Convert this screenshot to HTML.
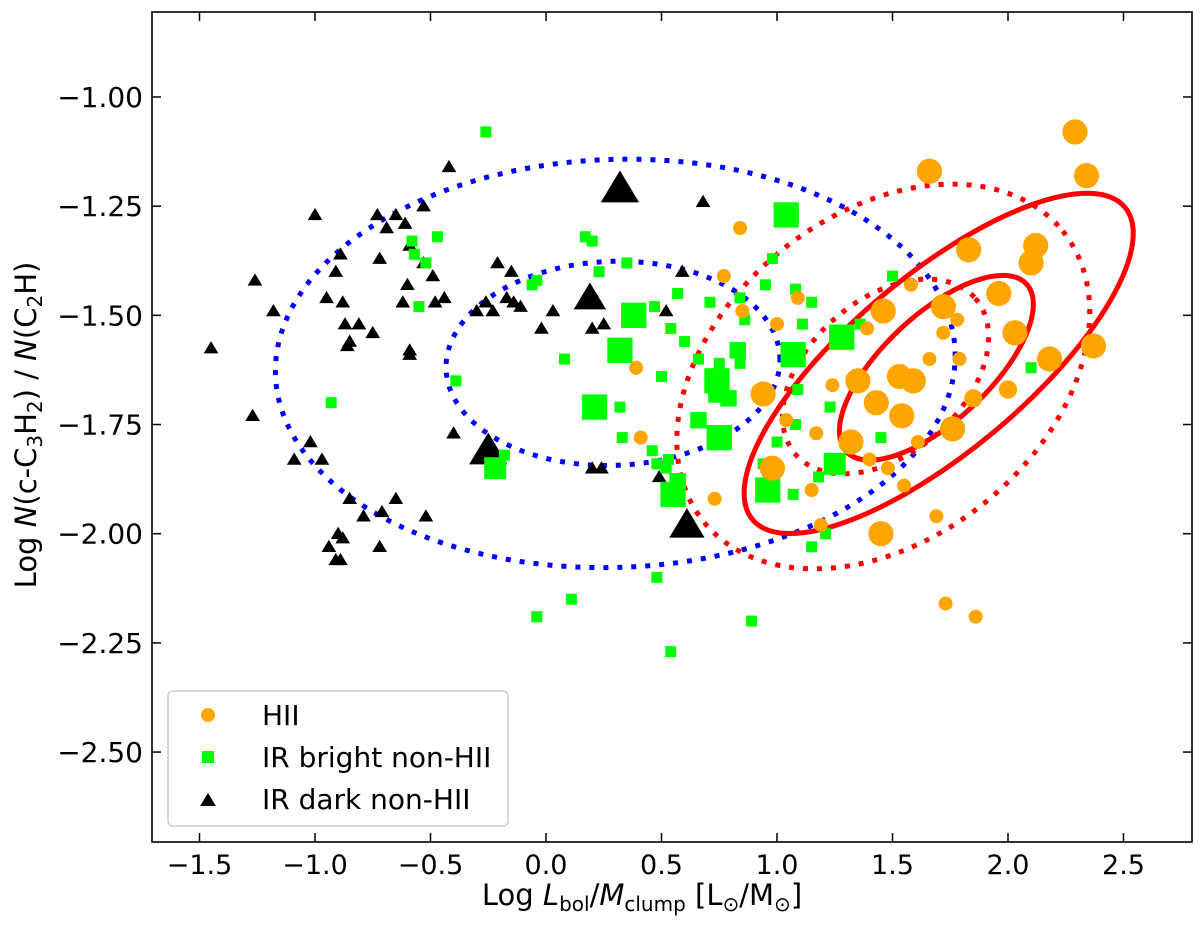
<!DOCTYPE html>
<html><head><meta charset="utf-8"><style>
html,body{margin:0;padding:0;background:#fff;}
svg{display:block;font-family:"DejaVu Sans","Liberation Sans",sans-serif;}
</style></head><body>
<svg id="chart" width="1200" height="929" viewBox="0 0 1200 929" xmlns="http://www.w3.org/2000/svg">
<g id="ellipses"></g>
<g id="marks"></g>
<g id="axes"></g>
<g id="legend"></g>
</svg>
<script>
const tickX = [-1.5,-1.0,-0.5,0.0,0.5,1.0,1.5,2.0,2.5];
const tickXLabels = ["\u22121.5","\u22121.0","\u22120.5","0.0","0.5","1.0","1.5","2.0","2.5"];
const tickY = [-1.00,-1.25,-1.50,-1.75,-2.00,-2.25,-2.50];
const tickYLabels = ["\u22121.00","\u22121.25","\u22121.50","\u22121.75","\u22122.00","\u22122.25","\u22122.50"];

const darkX = [-1.45,-1.26,-1.27,-1.09,-1.18,-1.00,-0.95,-0.91,-0.89,-0.88,-0.86,-0.87,-0.85,-0.81,-0.75,-0.73,-0.69,-0.65,-0.61,-0.59,-0.72,-0.60,-0.62,-0.59,-0.53,-0.53,-0.59,-0.49,-0.48,-0.44,-0.40,-0.42,-0.52,-0.65,-0.71,-0.85,-0.88,-0.91,-0.94,-0.90,-0.97,-1.02,-0.89,-0.79,-0.72,-0.30,-0.26,-0.23,-0.17,-0.15,-0.21,-0.14,-0.11,-0.02,0.03,0.18,0.20,0.25,0.20,0.24,0.59,0.49,0.68,0.52,0.32,0.19,-0.25,0.61];
const darkY = [-1.575,-1.42,-1.73,-1.83,-1.49,-1.27,-1.46,-1.40,-1.36,-1.47,-1.57,-1.52,-1.56,-1.52,-1.54,-1.27,-1.30,-1.27,-1.29,-1.34,-1.37,-1.43,-1.47,-1.58,-1.25,-1.38,-1.59,-1.41,-1.47,-1.46,-1.77,-1.16,-1.96,-1.92,-1.95,-1.92,-2.01,-2.06,-2.03,-2.00,-1.83,-1.79,-2.06,-1.96,-2.03,-1.49,-1.47,-1.49,-1.46,-1.40,-1.38,-1.47,-1.48,-1.53,-1.49,-1.45,-1.53,-1.52,-1.85,-1.85,-1.40,-1.87,-1.24,-1.49,-1.21,-1.46,-1.81,-1.98];
const darkS = [1,1,1,1,1,1,1,1,1,1,1,1,1,1,1,1,1,1,1,1,1,1,1,1,1,1,1,1,1,1,1,1,1,1,1,1,1,1,1,1,1,1,1,1,1,1,1,1,1,1,1,1,1,1,1,1,1,1,1,1,1,1,1,1,2.6,2.2,2.6,2.4];

const brightX = [-0.26,-0.58,-0.47,-0.52,-0.57,-0.55,-0.39,-0.93,-0.18,-0.22,0.08,0.17,0.20,0.35,0.23,-0.06,-0.04,0.32,0.38,0.47,0.57,0.54,0.50,0.60,0.66,0.21,0.32,0.33,0.46,0.48,0.53,0.55,0.52,0.48,0.74,0.74,0.75,0.75,0.84,0.84,0.86,0.95,0.98,1.04,1.08,1.15,1.11,1.07,1.09,1.08,1.00,0.96,1.07,1.25,1.18,1.23,1.28,1.45,1.15,1.21,0.89,0.11,-0.04,0.54,2.10,0.83,0.79,0.94,1.36,1.50,0.71,0.57,0.66];
const brightY = [-1.08,-1.33,-1.32,-1.38,-1.36,-1.48,-1.65,-1.70,-1.82,-1.85,-1.60,-1.32,-1.33,-1.38,-1.40,-1.43,-1.42,-1.58,-1.50,-1.48,-1.45,-1.53,-1.64,-1.56,-1.60,-1.71,-1.71,-1.78,-1.81,-1.84,-1.83,-1.91,-1.85,-2.10,-1.65,-1.68,-1.78,-1.61,-1.61,-1.46,-1.51,-1.43,-1.37,-1.27,-1.44,-1.47,-1.52,-1.59,-1.67,-1.75,-1.79,-1.90,-1.91,-1.84,-1.87,-1.71,-1.55,-1.78,-2.03,-2.00,-2.20,-2.15,-2.19,-2.27,-1.62,-1.58,-1.69,-1.84,-1.52,-1.41,-1.47,-1.88,-1.74];
const brightS = [1,1,1,1,1,1,1,1,1,2,1,1,1,1,1,1,1,2.3,2.3,1,1,1,1,1,1,2.3,1,1,1,1,1,2.3,1,1,2.3,1.6,2.3,1,1,1,1,1,1,2.3,1,1,1,2.3,1,1,1,2.3,1,2,1,1,2.3,1,1,1,1,1,1,1,1,1.5,1.5,1,1,1,1,1.5,1.5];

const hiiX = [2.29,1.66,2.34,2.12,2.10,1.83,1.96,1.72,2.37,2.18,2.03,1.78,1.46,1.58,1.39,1.35,1.43,1.53,1.59,1.54,1.76,1.85,1.79,1.66,1.72,1.32,1.40,1.48,1.55,1.45,0.98,0.94,1.04,1.15,1.19,0.85,0.77,0.84,1.09,1.00,0.73,0.41,0.39,1.17,2.00,1.69,1.73,1.86,1.61,1.24];
const hiiY = [-1.08,-1.17,-1.18,-1.34,-1.38,-1.35,-1.45,-1.48,-1.57,-1.60,-1.54,-1.51,-1.49,-1.43,-1.53,-1.65,-1.70,-1.64,-1.65,-1.73,-1.76,-1.69,-1.60,-1.60,-1.54,-1.79,-1.83,-1.85,-1.89,-2.00,-1.85,-1.68,-1.74,-1.90,-1.98,-1.49,-1.41,-1.30,-1.46,-1.52,-1.92,-1.78,-1.62,-1.77,-1.67,-1.96,-2.16,-2.19,-1.79,-1.66];
const hiiS = [1.8,1.8,1.8,1.8,1.8,1.8,1.8,1.8,1.8,1.8,1.8,1,1.8,1,1,1.8,1.8,1.8,1.8,1.8,1.8,1.3,1,1,1,1.8,1,1,1,1.8,1.8,1.8,1,1,1,1,1,1,1,1,1,1,1,1,1.3,1,1,1,1,1];

const X0=546, XS=231, Y0=97, YS=436.7;
function sx(v){return X0+v*XS;}
function sy(v){return Y0+(-1-v)*YS;}
const NS="http://www.w3.org/2000/svg";
function mk(tag,attrs,parent){const e=document.createElementNS(NS,tag);for(const k in attrs)e.setAttribute(k,attrs[k]);parent.appendChild(e);return e;}

const ellCx=[0.30,0.29,1.46,1.47,1.70,1.69];
const ellCy=[-1.61,-1.61,-1.64,-1.64,-1.61,-1.62];
const ellA=[340,167,231,119,243,123];
const ellB=[204,102,162,77,88,53];
const ellAng=[-2,-2,-39,-41,-40,-43];
const ellCol=["#0000ff","#0000ff","#ff0000","#ff0000","#ff0000","#ff0000"];
const ellDash=["5 9","5 9","5 9","5 9","",""];
const eg=document.getElementById('ellipses');
for(let i=0;i<ellCx.length;i++){
  const e=mk('ellipse',{cx:sx(ellCx[i]),cy:sy(ellCy[i]),rx:ellA[i],ry:ellB[i],fill:'none',stroke:ellCol[i],'stroke-width':5,'stroke-dasharray':ellDash[i],transform:`rotate(${ellAng[i]} ${sx(ellCx[i])} ${sy(ellCy[i])})`},eg);
  
  
}

const mg=document.getElementById('marks');
for(let i=0;i<darkX.length;i++){
  const x=sx(darkX[i]),y=sy(darkY[i]),h=7*darkS[i];
  const p=mk('polygon',{points:`${x},${y-h} ${x-h*1.05},${y+h*0.75} ${x+h*1.05},${y+h*0.75}`,fill:'#000'},mg);
  
  
}
for(let i=0;i<brightX.length;i++){
  const x=sx(brightX[i]),y=sy(brightY[i]),h=5.5*brightS[i];
  const r=mk('rect',{x:x-h,y:y-h,width:2*h,height:2*h,fill:'#00ff00'},mg);
  
  
}
for(let i=0;i<hiiX.length;i++){
  const c=mk('circle',{cx:sx(hiiX[i]),cy:sy(hiiY[i]),r:7*hiiS[i],fill:'#ffa500'},mg);
  
  
}

const ag=document.getElementById('axes');
const frame=mk('rect',{x:152,y:12,width:1040,height:830,fill:'none',stroke:'#000','stroke-width':1.6},ag);


tickX.forEach((v,i)=>{
  const x=sx(v);
  mk('line',{x1:x,y1:842,x2:x,y2:833,stroke:'#000','stroke-width':1.5},ag);
  mk('line',{x1:x,y1:12,x2:x,y2:21,stroke:'#000','stroke-width':1.5},ag);
  const t=mk('text',{x:x,y:874,'font-size':27,'text-anchor':'middle'},ag);
  t.textContent=tickXLabels[i];
  
  
});
tickY.forEach((v,i)=>{
  const y=sy(v);
  mk('line',{x1:152,y1:y,x2:161,y2:y,stroke:'#000','stroke-width':1.5},ag);
  mk('line',{x1:1192,y1:y,x2:1183,y2:y,stroke:'#000','stroke-width':1.5},ag);
  const t=mk('text',{x:143,y:y+10,'font-size':28,'text-anchor':'end'},ag);
  t.textContent=tickYLabels[i];
  
  
});
</script>
<script>
(function(){
const ag=document.getElementById('axes');
const NS="http://www.w3.org/2000/svg";
const xt=document.createElementNS(NS,'text');
xt.setAttribute('x',642);xt.setAttribute('y',905);xt.setAttribute('font-size',29);xt.setAttribute('text-anchor','middle');
xt.innerHTML='Log <tspan font-style="italic">L</tspan><tspan font-size="20" dy="6">bol</tspan><tspan dy="-6">/</tspan><tspan font-style="italic">M</tspan><tspan font-size="20" dy="6">clump</tspan><tspan dy="-6"> [L</tspan><tspan font-size="20" dy="6">\u2299</tspan><tspan dy="-6">/M</tspan><tspan font-size="20" dy="6">\u2299</tspan><tspan dy="-6">]</tspan>';


ag.appendChild(xt);
const yt=document.createElementNS(NS,'text');
yt.setAttribute('transform','translate(36,425) rotate(-90)');yt.setAttribute('font-size',29);yt.setAttribute('text-anchor','middle');
yt.innerHTML='Log <tspan font-style="italic">N</tspan>(c-C<tspan font-size="20" dy="6">3</tspan><tspan dy="-6">H</tspan><tspan font-size="20" dy="6">2</tspan><tspan dy="-6">) / </tspan><tspan font-style="italic">N</tspan>(C<tspan font-size="20" dy="6">2</tspan><tspan dy="-6">H)</tspan>';


ag.appendChild(yt);

const lg=document.getElementById('legend');
lg.innerHTML='<rect x="168" y="691" width="340" height="135" rx="5" fill="#fff" fill-opacity="0.85" stroke="#ccc" stroke-width="1.5"/>'+
'<g><circle cx="208" cy="715" r="7" fill="#ffa500"/><text x="262" y="725" font-size="28">HII</text></g>'+
'<g><rect x="202" y="751" width="12" height="12" fill="#00ff00"/><text x="262" y="767" font-size="28">IR bright non-HII</text></g>'+
'<g><polygon points="208,793 200,806 216,806" fill="#000"/><text x="262" y="809" font-size="28">IR dark non-HII</text></g>';
})();
</script>
</body></html>
